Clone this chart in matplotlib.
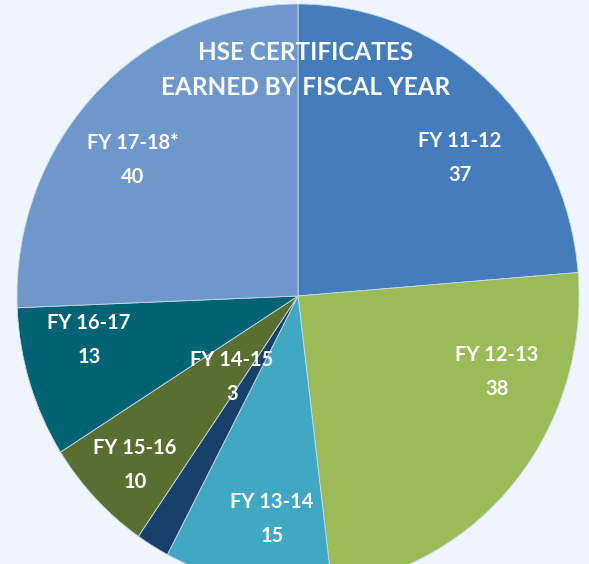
import matplotlib
matplotlib.use("Agg")
import matplotlib.pyplot as plt

# ---------------- DATA ---------------- #
years = ["FY 11-12", "FY 12-13", "FY 13-14", "FY 14-15", "FY 15-16", "FY 16-17", "FY 17-18*"]
certs = [37, 38, 15, 3, 10, 13, 40]
colors = ["#447DBA", "#9BBB59", "#41A8C4", "#17406B", "#5A6E32", "#006373", "#6E98C9"]

# label centres in image pixels (x, y from top)
label_pos = [(460, 158), (497, 372), (272, 519), (232, 377), (135, 465), (89, 340), (133, 160)]

W, H = 589, 564
cx, cy = 298, 296      # pie centre in pixels
rx, ry = 281, 292      # pie radii in pixels (slightly stretched vertically)

plt.rcParams['font.family'] = ['Lato', 'DejaVu Sans']

fig = plt.figure(figsize=(W / 100, H / 100), dpi=100)
fig.patch.set_facecolor("#EEF5FC")
ax = fig.add_axes([0, 0, 1, 1])
ax.set_facecolor("#EEF5FC")

ax.pie(certs, colors=colors, startangle=90, counterclock=False, radius=1,
       wedgeprops=dict(edgecolor="#C9D9E8", linewidth=0.6))
ax.set_aspect("auto")
ax.set_xlim(-cx / rx, (W - cx) / rx)
ax.set_ylim(-(H - cy) / ry, cy / ry)
ax.axis("off")

# labels
for name, val, (px, py) in zip(years, certs, label_pos):
    fig.text(px / W, 1 - py / H, f"{name}\n{val}", color="white", fontsize=14.5,
             fontweight="bold", ha="center", va="center", linespacing=1.85)

# title
fig.text(306 / W, 1 - 70 / H, "HSE CERTIFICATES\nEARNED BY FISCAL YEAR", color="white",
         fontsize=17.5, fontweight="bold", ha="center", va="center", linespacing=1.6)

fig.savefig("out.png", dpi=100, facecolor=fig.get_facecolor())
